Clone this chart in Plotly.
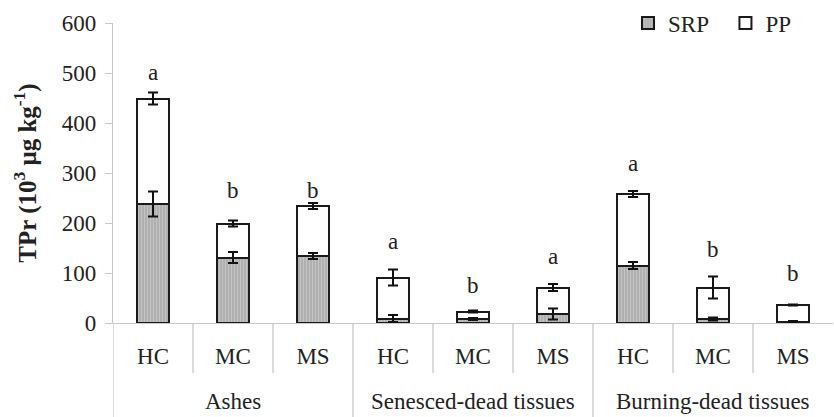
import plotly.graph_objects as go

groups = ["Ashes", "Senesced-dead tissues", "Burning-dead tissues"]
subs = ["HC", "MC", "MS"]
srp = [238, 131, 134, 9, 8, 18, 115, 8, 3]
srp_err = [25, 11, 6, 7, 2, 11, 7, 3, 1]
total = [449, 199, 234, 91, 23, 71, 258, 71, 36]
pp = [t - s for t, s in zip(total, srp)]
pp_err = [12, 6, 6, 16, 2, 7, 6, 22, 1]
letters = ["a", "b", "b", "a", "b", "a", "a", "b", "b"]
letter_y = [502, 266, 266, 163, 76, 133, 319, 147, 99]

x = list(range(9))
ticktext = subs * 3
FONT = "Liberation Serif"
FS = 23
NB = "\u00a0"

fig = go.Figure()
fig.add_trace(go.Bar(
    x=x, y=srp, name="SRP" + NB * 2, width=0.41,
    marker=dict(color="#b4b4b4", line=dict(color="#1a1a1a", width=2),
                pattern=dict(shape="|", fgcolor="#d6d6d6", bgcolor="#b0b0b0", size=3, solidity=0.35)),
))
fig.add_trace(go.Bar(
    x=x, y=pp, name="PP", width=0.41,
    marker=dict(color="white", line=dict(color="#1a1a1a", width=2)),
))
# error bars drawn on top of the bars
fig.add_trace(go.Scatter(
    x=x, y=srp, mode="markers", marker=dict(size=0, opacity=0), showlegend=False, hoverinfo="skip",
    error_y=dict(type="data", array=srp_err, color="#111", thickness=2, width=5),
))
fig.add_trace(go.Scatter(
    x=x, y=total, mode="markers", marker=dict(size=0, opacity=0), showlegend=False, hoverinfo="skip",
    error_y=dict(type="data", array=pp_err, color="#111", thickness=2, width=5),
))

for xi, l, ly in zip(x, letters, letter_y):
    fig.add_annotation(x=xi, y=ly, text=l, showarrow=False, xref="x", yref="y",
                       font=dict(family=FONT, size=FS, color="#222"))

# group labels
for gi, g in enumerate(groups):
    fig.add_annotation(x=gi * 3 + 1, y=-0.262, xref="x", yref="paper", text=g, showarrow=False,
                       font=dict(family=FONT, size=FS, color="#222"), yanchor="middle")

# dividers
H = 300.0
for i in range(9):
    xb = i - 0.5
    y1 = -94 / H if i % 3 == 0 else -50 / H
    fig.add_shape(type="line", xref="x", yref="paper", x0=xb, x1=xb, y0=0, y1=y1,
                  line=dict(color="#c8c8c8", width=1.3))

fig.update_layout(
    width=834, height=417,
    margin=dict(l=113, r=1, t=23, b=94),
    barmode="stack",
    paper_bgcolor="white", plot_bgcolor="white",
    font=dict(family=FONT, size=FS, color="#222"),
    showlegend=True,
    legend=dict(orientation="h", x=0.95, xanchor="right", y=1.0, yanchor="middle",
                font=dict(family=FONT, size=FS, color="#222"), itemwidth=30,
                bgcolor="rgba(0,0,0,0)", traceorder="normal"),
    xaxis=dict(range=[-0.5, 8.5], tickvals=x, ticktext=ticktext, showgrid=False,
               showline=True, linecolor="#c8c8c8", linewidth=1.3, ticks="", zeroline=False,
               tickfont=dict(family=FONT, size=FS, color="#222"), ticklabelstandoff=12),
    yaxis=dict(range=[0, 600], dtick=100, showgrid=False, showline=True, linecolor="#c8c8c8",
               linewidth=1.3, ticks="outside", ticklen=7, tickcolor="#c8c8c8", zeroline=False,
               tickfont=dict(family=FONT, size=FS, color="#222"), ticklabelstandoff=4,
               title=dict(text="<b>TPr (10<sup>3</sup> μg kg<sup>-1</sup>)</b>",
                          font=dict(family=FONT, size=25, color="#222"), standoff=18)),
)
fig.write_html("out.html")
